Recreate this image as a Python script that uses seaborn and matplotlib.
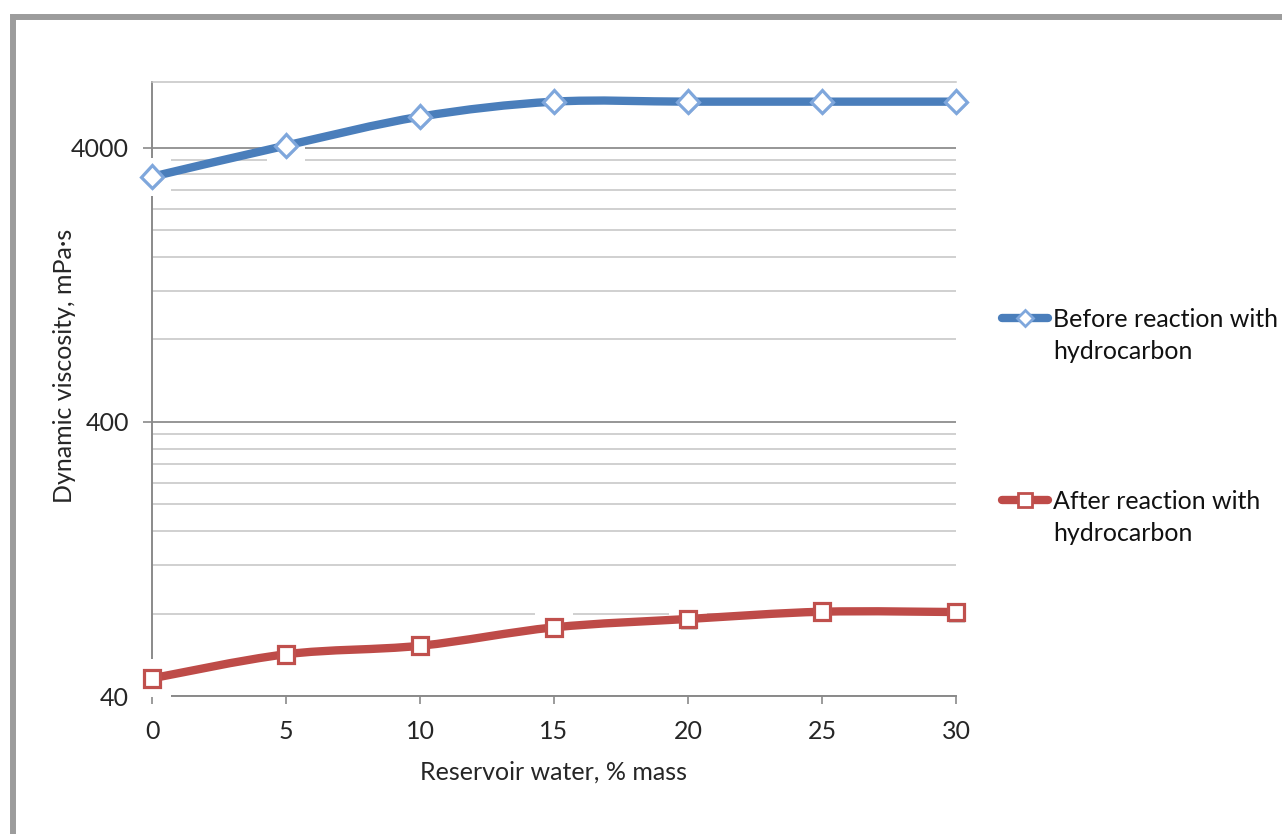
import numpy as np
import pandas as pd
import matplotlib
matplotlib.use("Agg")
import matplotlib.pyplot as plt
import matplotlib.patheffects as pe
from matplotlib.path import Path
from matplotlib.patches import PathPatch, Rectangle
from matplotlib.lines import Line2D
from matplotlib.ticker import FixedLocator, NullFormatter
import seaborn as sns

# ---- data -------------------------------------------------------------
water = [0, 5, 10, 15, 20, 25, 30]                       # reservoir water, % mass
before = [3140, 4080, 5200, 5900, 5900, 5900, 5900]      # mPa·s, before reaction
after = [46.4, 56.8, 61.0, 71.2, 76.4, 81.2, 81.0]        # mPa·s, after reaction

series_labels = ["Before reaction with\nhydrocarbon", "After reaction with\nhydrocarbon"]
y_major = [40, 400, 4000]
y_major_labels = ["40", "400", "4000"]
x_ticks = [0, 5, 10, 15, 20, 25, 30]

x_title = "Reservoir water, % mass"
y_title = "Dynamic viscosity, mPa·s"

# ---- style ------------------------------------------------------------
sns.set_theme(style="white")
plt.rcParams["font.family"] = ["Lato", "DejaVu Sans"]
plt.rcParams["text.color"] = "#111111"

BLUE = "#4A7EBB"
BLUE_EDGE = "#7FA7DC"
RED = "#BE4B48"
RED_EDGE = "#C0504D"
GRID_MAJOR = "#8E8E8E"
GRID_MINOR = "#C4C4C4"
SPINE = "#8A8A8A"
FS = 18

W, H = 1282, 834
fig = plt.figure(figsize=(W / 100, H / 100), dpi=100)
ax = fig.add_axes([152 / W, 1 - 696 / H, (956 - 152) / W, (696 - 82) / H])

ax.set_yscale("log")
ax.set_xlim(0, 30)
ax.set_ylim(40, 6960)

# minor gridlines at every multiple of each decade's base value
minor = []
for base in y_major[:-1]:
    minor += [base * k for k in range(2, 10)]
ax.yaxis.set_major_locator(FixedLocator(y_major))
ax.yaxis.set_minor_locator(FixedLocator(minor))
ax.set_yticklabels(y_major_labels)
ax.yaxis.set_minor_formatter(NullFormatter())
ax.set_xticks(x_ticks)
ax.set_xticklabels([str(v) for v in x_ticks])

ax.set_axisbelow(True)
ax.grid(True, which="major", axis="y", color=GRID_MAJOR, lw=1.3)
ax.grid(True, which="minor", axis="y", color=GRID_MINOR, lw=1.1)
ax.grid(False, axis="x")

ax.spines["right"].set_visible(False)
ax.spines["top"].set_color(GRID_MINOR)
ax.spines["top"].set_linewidth(1.1)
for s in ("left", "bottom"):
    ax.spines[s].set_color(SPINE)
    ax.spines[s].set_linewidth(1.4)

ax.tick_params(axis="y", which="major", direction="out", length=6.5, width=1.2,
               color=SPINE, pad=10, labelsize=FS, left=True)
ax.tick_params(axis="y", which="minor", length=0, left=False)
ax.tick_params(axis="x", which="major", direction="out", length=6, width=1.2,
               color=SPINE, pad=11, labelsize=FS, bottom=True)


def smooth_curve(xs, ys):
    """Bezier path through the points, smoothed in log-y space."""
    p = np.column_stack([np.asarray(xs, float), np.log10(np.asarray(ys, float))])
    n = len(p)
    verts = [p[0]]
    codes = [Path.MOVETO]
    for i in range(n - 1):
        prev = p[i - 1] if i > 0 else p[i]
        nxt = p[i + 2] if i + 2 < n else p[i + 1]
        c1 = p[i] + (p[i + 1] - prev) / 6.0
        c2 = p[i + 1] - (nxt - p[i]) / 6.0
        verts += [c1, c2, p[i + 1]]
        codes += [Path.CURVE4] * 3
    v = np.array(verts)
    v[:, 1] = 10 ** v[:, 1]
    return Path(v, codes)


shadow = [pe.SimplePatchShadow(offset=(0.6, -1.6), shadow_rgbFace="#808080", alpha=0.35),
          pe.Normal()]

for ys, col, edge, mk, ms in [(before, BLUE, BLUE_EDGE, "D", 11.5),
                              (after, RED, RED_EDGE, "s", 12)]:
    df = pd.DataFrame({"x": water, "y": ys})
    # white clearing behind each marker
    sns.lineplot(data=df, x="x", y="y", ax=ax, linestyle="", marker="s", ms=28,
                 mfc="white", mec="white", mew=0, zorder=3, clip_on=False)
    # smoothed connecting line
    ax.add_patch(PathPatch(smooth_curve(water, ys), fill=False, edgecolor=col,
                           lw=6, capstyle="butt", joinstyle="round", zorder=4,
                           clip_on=False))
    # the markers themselves
    ln = sns.lineplot(data=df, x="x", y="y", ax=ax, linestyle="", marker=mk, ms=ms,
                      mfc="white", mec=edge, mew=2.3, zorder=5, clip_on=False)
    ln.lines[-1].set_path_effects(shadow)

ax.set_xlabel(x_title, fontsize=FS, labelpad=13)
ax.set_ylabel(y_title, fontsize=FS)
ax.yaxis.set_label_coords(-0.095, 0.537)

# ---- legend (handles + two-line labels) -------------------------------
for (col, edge, mk, ms), ypx, lab in zip(
        [(BLUE, BLUE_EDGE, "D", 8), (RED, RED_EDGE, "s", 10)],
        [318, 500], series_labels):
    yf = 1 - ypx / H
    fig.add_artist(Line2D([1002 / W, 1048 / W], [yf, yf], transform=fig.transFigure,
                          color=col, lw=6, solid_capstyle="round"))
    fig.add_artist(Line2D([1025 / W], [yf], transform=fig.transFigure, linestyle="",
                          marker=mk, ms=ms, mfc="white", mec=edge, mew=2))
    fig.text(1053 / W, 1 - (ypx - 10) / H, lab, fontsize=FS, ha="left", va="top",
             linespacing=1.45)

# grey frame along the left and top edges
fig.add_artist(Rectangle((13 / W, -0.2), 2.0, 1.2 - 17 / H, transform=fig.transFigure,
                         fill=False, edgecolor="#9C9C9C", lw=4.3))

fig.savefig("out.png", dpi=100, facecolor="white")
